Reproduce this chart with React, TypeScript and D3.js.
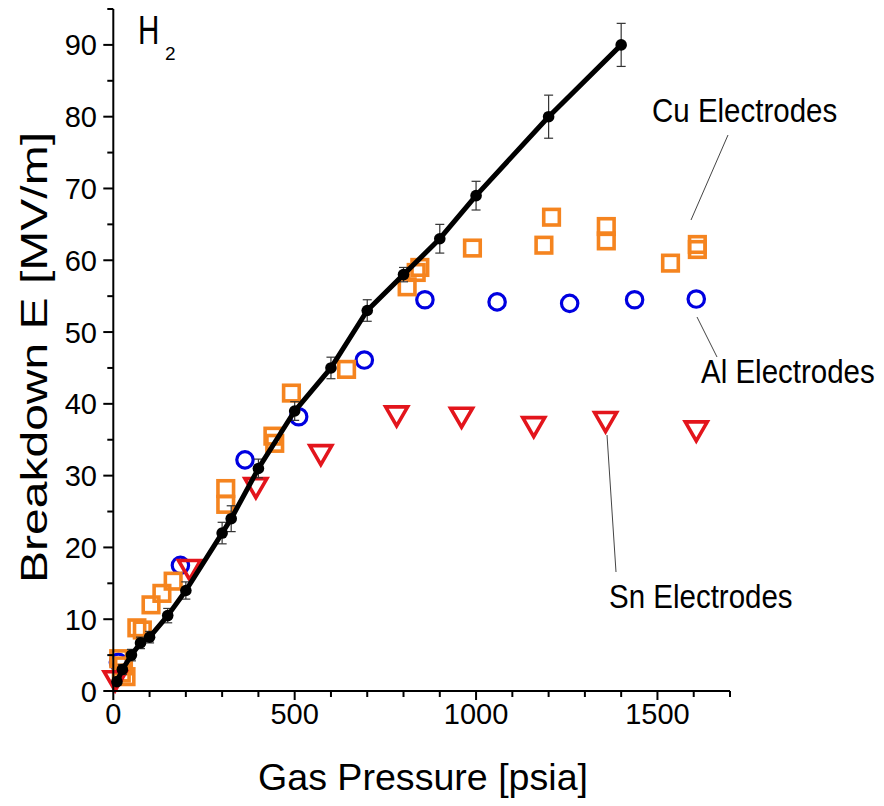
import React from 'react';
import * as d3 from 'd3';

// Black reference curve with error bars
const linePressure = [10, 25, 50, 75, 100, 150, 200, 300, 325, 400, 500, 600, 700, 800, 900, 1000, 1200, 1400];
const lineField = [1.3, 3, 5, 6.7, 7.5, 10.5, 14, 22, 24, 31, 39, 45, 53, 58, 63, 69, 80, 90];
const lineError = [0.5, 0.7, 0.8, 0.8, 0.8, 1, 1.2, 1.5, 1.8, 1.3, 1.3, 1.5, 1.5, 1, 2, 2, 3, 3];

// Cu electrodes (orange squares)
const cuPressure = [15, 28, 35, 22, 65, 80, 104, 134, 165, 310, 310, 440, 445, 491, 643, 810, 835, 845, 990, 1187, 1208, 1359, 1359, 1536, 1610, 1610];
const cuField = [4.5, 3.5, 2, 2.5, 8.8, 8.5, 12, 13.6, 15.3, 28.2, 26, 35.5, 34.5, 41.5, 44.8, 56.3, 58.3, 59, 61.7, 62.1, 66, 64.7, 62.7, 59.6, 62.2, 61.5];

// Al electrodes (blue circles)
const alPressure = [14, 185, 363, 511, 692, 859, 1058, 1258, 1437, 1607];
const alField = [4, 17.5, 32.2, 38.2, 46.1, 54.5, 54.2, 54, 54.5, 54.6];

// Sn electrodes (red inverted triangles)
const snPressure = [5, 210, 393, 572, 781, 960, 1159, 1357, 1607];
const snField = [1.5, 17, 28.4, 33, 38.4, 38.2, 36.9, 37.6, 36.3];

const xMajorTicks = [0, 500, 1000, 1500];
const xMinorTicks = [100, 200, 300, 400, 600, 700, 800, 900, 1100, 1200, 1300, 1400, 1600, 1700];
const yMajorTicks = [0, 10, 20, 30, 40, 50, 60, 70, 80, 90];
const yMinorTicks = [5, 15, 25, 35, 45, 55, 65, 75, 85, 95];

const xLabel = 'Gas Pressure [psia]';
const yLabel = 'Breakdown E [MV/m]';

const FONT = '"Liberation Sans", Arial, Helvetica, sans-serif';
const ORANGE = '#f5841f';
const BLUE = '#0000e0';
const RED = '#e3151c';

export default function App() {
  const x = d3.scaleLinear().domain([0, 1700]).range([113.3, 730]);
  const y = d3.scaleLinear().domain([0, 95]).range([691, 9]);

  const lineGen = d3
    .line<number>()
    .x((_, i) => x(linePressure[i]))
    .y((d) => y(d));

  const x0 = x(0);
  const y0 = y(0);

  return (
    <svg
      width={884}
      height={806}
      style={{ position: 'absolute', left: 0, top: 0, background: '#fff' }}
      fontFamily={FONT}
    >
      <rect x={0} y={0} width={884} height={806} fill="#fff" />

      {/* Blue circles */}
      {alPressure.map((p, i) => (
        <circle key={'al' + i} cx={x(p)} cy={y(alField[i])} r={8.2} fill="none" stroke={BLUE} strokeWidth={3.2} />
      ))}

      {/* Orange squares */}
      {cuPressure.map((p, i) => (
        <rect
          key={'cu' + i}
          x={x(p) - 7.8}
          y={y(cuField[i]) - 7.8}
          width={15.6}
          height={15.6}
          fill="none"
          stroke={ORANGE}
          strokeWidth={3.6}
        />
      ))}

      {/* Red triangles */}
      {snPressure.map((p, i) => {
        const cx = x(p);
        const cy = y(snField[i]);
        return (
          <path
            key={'sn' + i}
            d={`M${cx - 11},${cy - 8.5} L${cx + 11},${cy - 8.5} L${cx},${cy + 10.5} Z`}
            fill="none"
            stroke={RED}
            strokeWidth={3.6}
            strokeLinejoin="miter"
          />
        );
      })}

      {/* Error bars */}
      {linePressure.map((p, i) => {
        const cx = x(p);
        const yt = y(lineField[i] + lineError[i]);
        const yb = y(lineField[i] - lineError[i]);
        return (
          <g key={'eb' + i} stroke="#333" strokeWidth={1.2}>
            <line x1={cx} x2={cx} y1={yt} y2={yb} />
            <line x1={cx - 4.5} x2={cx + 4.5} y1={yt} y2={yt} />
            <line x1={cx - 4.5} x2={cx + 4.5} y1={yb} y2={yb} />
          </g>
        );
      })}

      {/* Black line */}
      <path d={lineGen(lineField) || ''} fill="none" stroke="#000" strokeWidth={5} strokeLinejoin="round" />
      {linePressure.map((p, i) => (
        <circle key={'bd' + i} cx={x(p)} cy={y(lineField[i])} r={5.8} fill="#000" />
      ))}

      {/* Axes */}
      <g stroke="#000" strokeWidth={2}>
        <line x1={x0} x2={x0} y1={y(95)} y2={y0 + 1} />
        <line x1={x0 - 1} x2={x(1700)} y1={y0} y2={y0} />
        {yMajorTicks.map((t) => (
          <line key={'ymj' + t} x1={x0 - 10} x2={x0} y1={y(t)} y2={y(t)} />
        ))}
        {yMinorTicks.map((t) => (
          <line key={'ymn' + t} x1={x0 - 6} x2={x0} y1={y(t)} y2={y(t)} />
        ))}
        {xMajorTicks.map((t) => (
          <line key={'xmj' + t} x1={x(t)} x2={x(t)} y1={y0} y2={y0 + 9} />
        ))}
        {xMinorTicks.map((t) => (
          <line key={'xmn' + t} x1={x(t)} x2={x(t)} y1={y0} y2={y0 + 6} />
        ))}
      </g>

      {/* Tick labels */}
      {yMajorTicks.map((t) => (
        <text key={'yl' + t} x={97} y={y(t) + 10.5} fontSize={29} textAnchor="end" fill="#000">
          {t}
        </text>
      ))}
      {xMajorTicks.map((t) => (
        <text key={'xl' + t} x={x(t)} y={724} fontSize={29} textAnchor="middle" fill="#000">
          {t}
        </text>
      ))}

      {/* Axis titles */}
      <text x={258} y={790} fontSize={37} fill="#000" textLength={330} lengthAdjust="spacingAndGlyphs">
        {xLabel}
      </text>
      <text
        transform="translate(47,583) rotate(-90)"
        x={0}
        y={0}
        fontSize={37}
        fill="#000"
        textLength={451}
        lengthAdjust="spacingAndGlyphs"
      >
        {yLabel}
      </text>

      {/* H2 label */}
      <text transform="translate(138,43.5) scale(0.74,1)" fontSize={40} fill="#000">
        H
      </text>
      <text x={165} y={60} fontSize={19} fill="#000">
        2
      </text>

      {/* Annotations */}
      <g stroke="#444" strokeWidth={1}>
        <line x1={728} y1={135} x2={691} y2={220} />
        <line x1={697} y1={317} x2={717} y2={357} />
        <line x1={607} y1={435} x2={616} y2={572} />
      </g>
      <text transform="translate(652,122) scale(1,1.1)" fontSize={29.5} fill="#000">
        Cu Electrodes
      </text>
      <text transform="translate(701,383) scale(1,1.1)" fontSize={29.5} fill="#000">
        Al Electrodes
      </text>
      <text transform="translate(609,608) scale(1,1.1)" fontSize={29.5} fill="#000">
        Sn Electrodes
      </text>
    </svg>
  );
}
